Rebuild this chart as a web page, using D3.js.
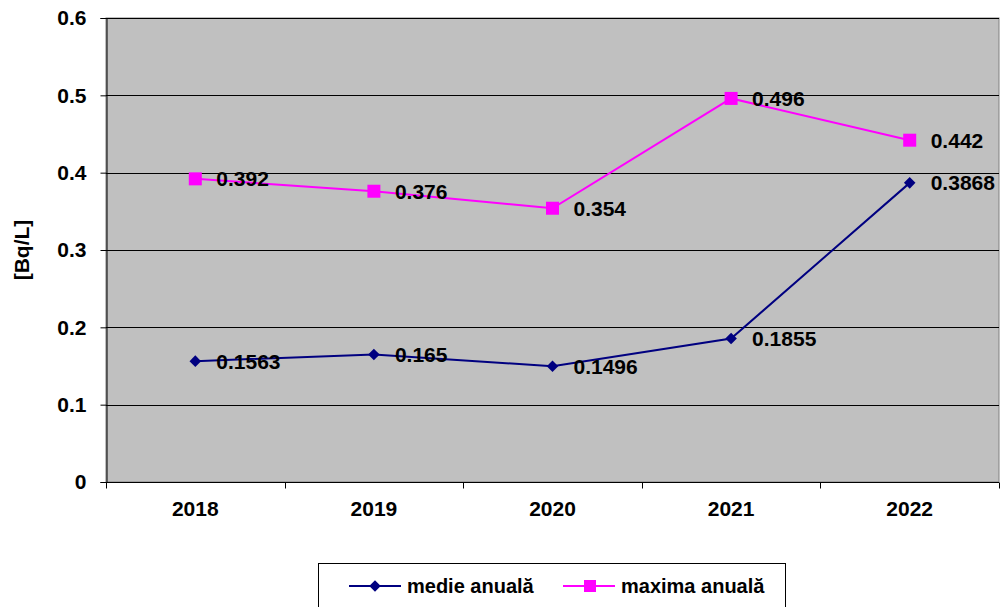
<!DOCTYPE html>
<html>
<head>
<meta charset="utf-8">
<script src="https://cdn.jsdelivr.net/npm/d3@7"></script>
<style>
  body { margin: 0; background: #fff; }
  text { font-family: Arial, "Liberation Sans", sans-serif; font-weight: bold; }
</style>
</head>
<body>
<svg width="1000" height="607"></svg>
<script>
// data
var years = ['2018', '2019', '2020', '2021', '2022'];
var medie = [0.1563, 0.165, 0.1496, 0.1855, 0.3868];
var maxima = [0.392, 0.376, 0.354, 0.496, 0.442];
var yTicks = [0, 0.1, 0.2, 0.3, 0.4, 0.5, 0.6];

var svg = d3.select('svg');

var xScale = d3.scaleBand().domain(years).range([106, 999]);
var yScale = d3.scaleLinear().domain([0, 0.6]).range([482, 18]);

// plot background
svg.append('rect')
    .attr('x', 106).attr('y', 18)
    .attr('width', 893).attr('height', 464)
    .attr('fill', '#c0c0c0')
    .attr('stroke', '#808080');

// gridlines
svg.append('g').selectAll('line')
    .data(yTicks.slice(1))
    .enter().append('line')
    .attr('x1', 106).attr('x2', 999)
    .attr('y1', function(d) { return Math.round(yScale(d)) + 0.5; })
    .attr('y2', function(d) { return Math.round(yScale(d)) + 0.5; })
    .attr('stroke', '#000');

// y axis
var yAxis = svg.append('g')
    .attr('transform', 'translate(106.5,0)')
    .call(d3.axisLeft(yScale).tickValues(yTicks).tickSize(6).tickPadding(14)
        .tickFormat(function(d) { return d === 0 ? '0' : d3.format('.1f')(d); }));
yAxis.select('.domain').attr('stroke', '#000');
yAxis.selectAll('text').style('font-size', '21px').attr('fill', '#000');

// x axis
var xAxis = svg.append('g').attr('transform', 'translate(0,482.5)');
xAxis.append('line').attr('x1', 106).attr('x2', 999).attr('stroke', '#000');
xAxis.selectAll('.tk')
    .data(d3.range(years.length + 1))
    .enter().append('line')
    .attr('class', 'tk')
    .attr('x1', function(i) { return Math.round(106 + i * xScale.bandwidth()) + 0.5; })
    .attr('x2', function(i) { return Math.round(106 + i * xScale.bandwidth()) + 0.5; })
    .attr('y1', 0).attr('y2', 6)
    .attr('stroke', '#000');
xAxis.selectAll('.lbl')
    .data(years)
    .enter().append('text')
    .attr('class', 'lbl')
    .attr('x', function(d) { return xScale(d) + xScale.bandwidth() / 2; })
    .attr('y', 33)
    .attr('text-anchor', 'middle')
    .style('font-size', '21px')
    .text(function(d) { return d; });

// y label
svg.append('text')
    .attr('transform', 'translate(29,250) rotate(-90)')
    .attr('text-anchor', 'middle')
    .style('font-size', '21px')
    .text('[Bq/L]');

function cx(i) { return xScale(years[i]) + xScale.bandwidth() / 2; }

var line = d3.line()
    .x(function(d, i) { return cx(i); })
    .y(function(d) { return yScale(d); });

// series lines
svg.append('path').datum(maxima)
    .attr('d', line).attr('fill', 'none')
    .attr('stroke', '#ff00ff').attr('stroke-width', 2);
svg.append('path').datum(medie)
    .attr('d', line).attr('fill', 'none')
    .attr('stroke', '#000080').attr('stroke-width', 2);

// markers
svg.append('g').selectAll('rect')
    .data(maxima).enter().append('rect')
    .attr('x', function(d, i) { return cx(i) - 6.5; })
    .attr('y', function(d) { return yScale(d) - 6.5; })
    .attr('width', 13).attr('height', 13)
    .attr('fill', '#ff00ff');
var diamond = d3.symbol().type(d3.symbolDiamond2).size(85);
svg.append('g').selectAll('path')
    .data(medie).enter().append('path')
    .attr('d', diamond)
    .attr('transform', function(d, i) { return 'translate(' + cx(i) + ',' + yScale(d) + ')'; })
    .attr('fill', '#000080');

// data labels
function labels(data) {
    svg.append('g').selectAll('text')
        .data(data).enter().append('text')
        .attr('x', function(d, i) { return cx(i) + 21; })
        .attr('y', function(d) { return yScale(d); })
        .attr('dy', '0.36em')
        .style('font-size', '21px')
        .text(function(d) { return d; });
}
labels(maxima);
labels(medie);

// legend
var leg = svg.append('g');
leg.append('rect')
    .attr('x', 318.5).attr('y', 563.5)
    .attr('width', 467).attr('height', 60)
    .attr('fill', '#fff').attr('stroke', '#000');
leg.append('line').attr('x1', 349).attr('x2', 401).attr('y1', 586).attr('y2', 586)
    .attr('stroke', '#000080').attr('stroke-width', 2);
leg.append('path').attr('d', diamond)
    .attr('transform', 'translate(375,586)').attr('fill', '#000080');
leg.append('text').attr('x', 407).attr('y', 586).attr('dy', '0.36em')
    .style('font-size', '20px').text('medie anuală');
leg.append('line').attr('x1', 563).attr('x2', 615).attr('y1', 586).attr('y2', 586)
    .attr('stroke', '#ff00ff').attr('stroke-width', 2);
leg.append('rect').attr('x', 584).attr('y', 580).attr('width', 12).attr('height', 12)
    .attr('fill', '#ff00ff');
leg.append('text').attr('x', 621).attr('y', 586).attr('dy', '0.36em')
    .style('font-size', '20px').text('maxima anuală');
</script>
</body>
</html>
